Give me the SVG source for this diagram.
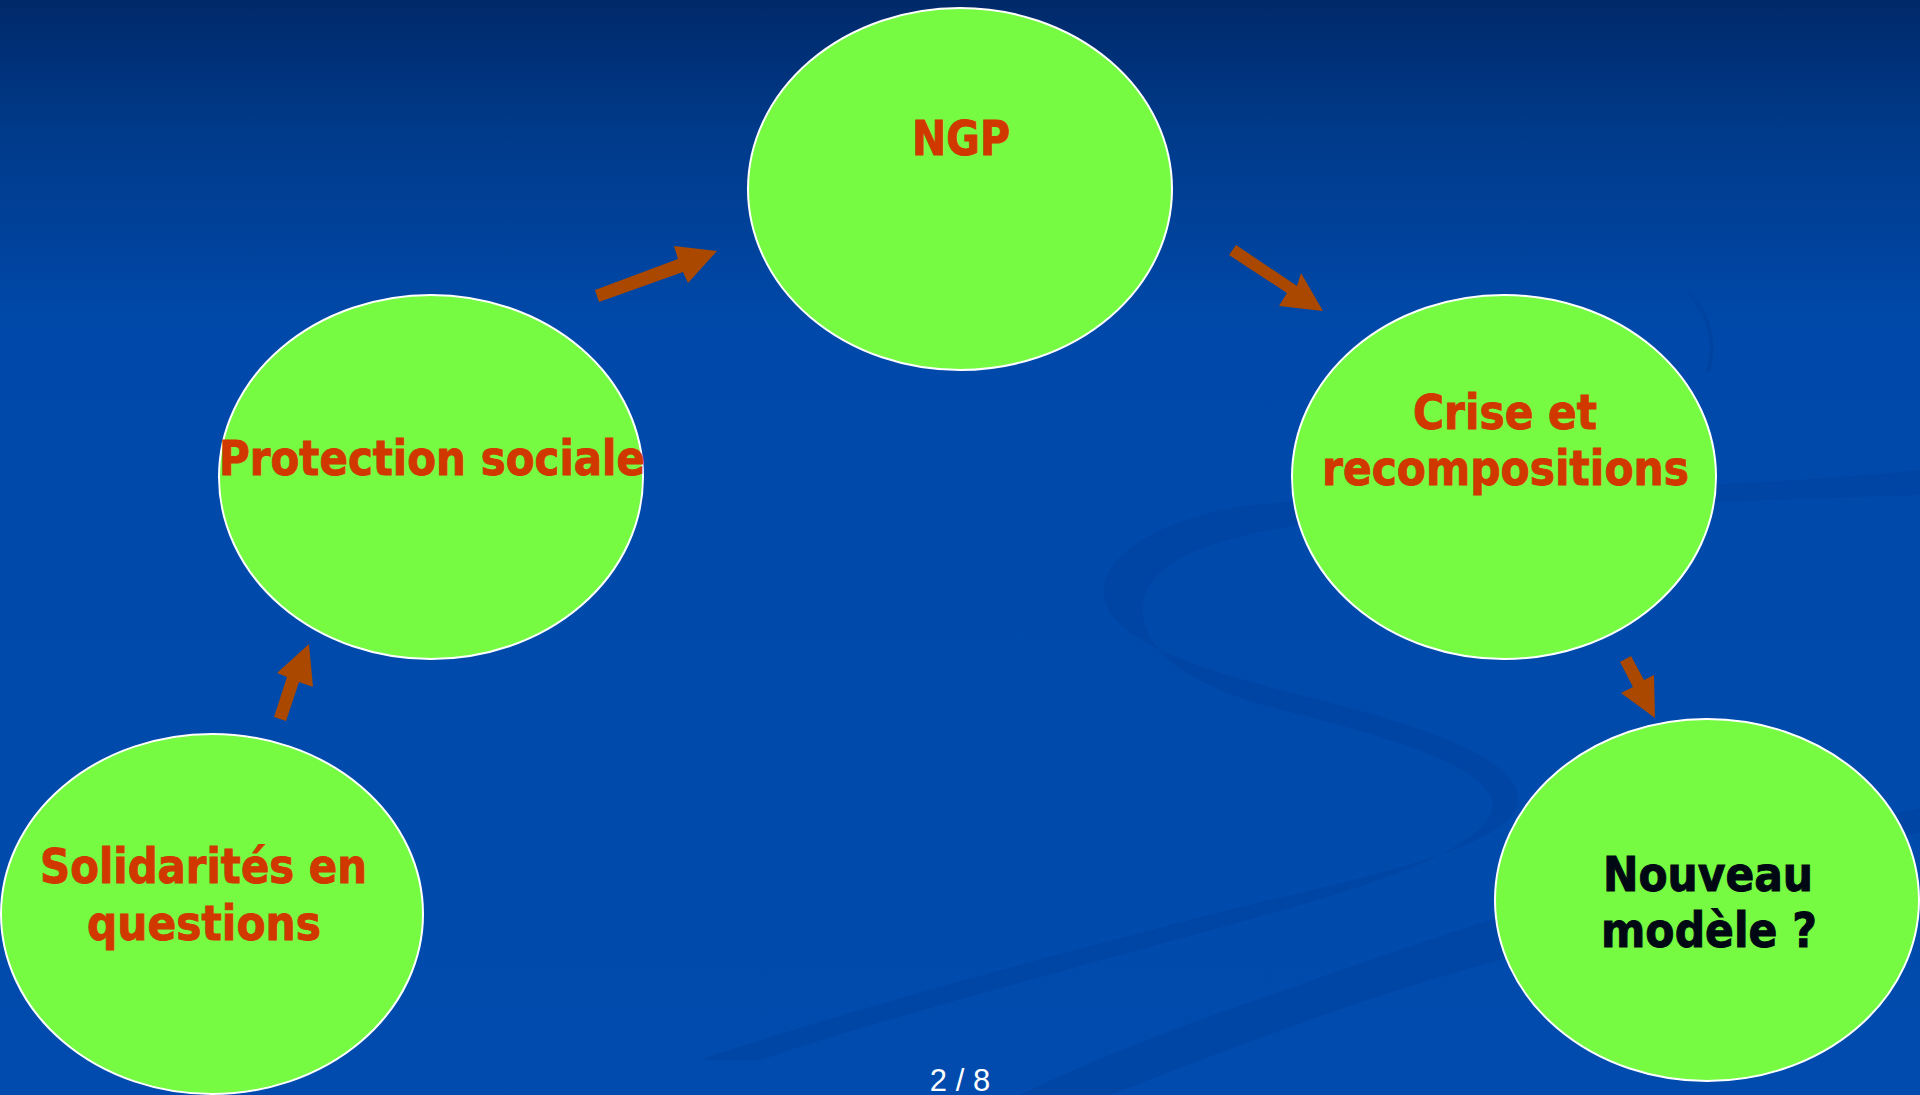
<svg xmlns="http://www.w3.org/2000/svg" width="1920" height="1095" viewBox="0 0 1920 1095">
<defs>
<linearGradient id="bg" x1="0" y1="0" x2="0" y2="1095" gradientUnits="userSpaceOnUse">
<stop offset="0" stop-color="#00296a"/>
<stop offset="0.12" stop-color="#003a8a"/>
<stop offset="0.3" stop-color="#0049aa"/>
<stop offset="1" stop-color="#004bad"/>
</linearGradient>
</defs>
<style>
.node ellipse{fill:#77fb42;stroke:#ffffff;stroke-width:2}
.lbl{font-family:"DejaVu Sans","Verdana",sans-serif;font-weight:bold;font-size:48px;fill:#d03800;stroke:#d03800;stroke-width:1;text-anchor:middle}
.dark{fill:#000814;stroke:#000814}
.arrow{fill:#aa4800}
.swirl{fill:#0044a2;opacity:0.75}
</style>
<rect width="1920" height="1095" fill="url(#bg)"/>
<g id="background-swirl">
<path class="swirl" d="M1920,470 C1700,492 1400,492 1250,505 C1150,520 1100,560 1104,595 C1108,640 1200,670 1300,695 C1420,725 1510,755 1518,795 C1525,840 1400,870 1250,905 C1050,955 850,1010 700,1060 L760,1060 C900,1012 1100,962 1300,905 C1440,865 1500,830 1492,800 C1480,765 1400,740 1290,712 C1190,688 1139,650 1143,605 C1147,565 1200,540 1300,525 C1450,512 1700,502 1920,495 Z"/>
<path class="swirl" d="M1920,808 C1700,850 1450,930 1300,985 C1150,1035 1050,1080 1020,1095 L1110,1095 C1200,1060 1350,1000 1500,960 C1700,905 1850,850 1920,832 Z"/>
<path d="M1688,290 C1712,320 1716,345 1708,372" fill="none" stroke="#0044a2" stroke-width="4"/>
</g>
<g id="connectors">
<polygon class="arrow" points="274,717 287,677 277,673 309,644 313,687 299,682 286,721"/>
<polygon class="arrow" points="595,290 678,259 674,246 717,251 688,283 683,272 599,302"/>
<polygon class="arrow" points="1229,255 1236,245 1297,286 1301,273 1323,311 1279,306 1287,293"/>
<polygon class="arrow" points="1620,662 1631,656 1644,680 1654,675 1655,718 1621,693 1633,687"/>
</g>
<g id="node-ngp" class="node">
<ellipse cx="960" cy="189" rx="212" ry="181"/>
<text class="lbl" x="961" y="155" textLength="98" lengthAdjust="spacingAndGlyphs">NGP</text>
</g>
<g id="node-protection" class="node">
<ellipse cx="431" cy="477" rx="212" ry="182"/>
<text class="lbl" x="432" y="475" textLength="426" lengthAdjust="spacingAndGlyphs">Protection sociale</text>
</g>
<g id="node-crise" class="node">
<ellipse cx="1504" cy="477" rx="212" ry="182"/>
<text class="lbl" x="1505" y="429" textLength="184" lengthAdjust="spacingAndGlyphs">Crise et</text>
<text class="lbl" x="1505.5" y="485" textLength="367" lengthAdjust="spacingAndGlyphs">recompositions</text>
</g>
<g id="node-nouveau" class="node">
<ellipse cx="1707" cy="900" rx="212" ry="181"/>
<text class="lbl dark" x="1708" y="891" textLength="210" lengthAdjust="spacingAndGlyphs">Nouveau</text>
<text class="lbl dark" x="1709" y="947" textLength="216" lengthAdjust="spacingAndGlyphs">modèle ?</text>
</g>
<g id="node-solidarites" class="node">
<ellipse cx="212" cy="914" rx="211" ry="180"/>
<text class="lbl" x="203.5" y="883" textLength="327" lengthAdjust="spacingAndGlyphs">Solidarités en</text>
<text class="lbl" x="204" y="940" textLength="234" lengthAdjust="spacingAndGlyphs">questions</text>
</g>
<text x="960" y="1091" font-family="Liberation Sans, Arial, sans-serif" font-size="31" fill="#ffffff" text-anchor="middle">2 / 8</text>
</svg>
